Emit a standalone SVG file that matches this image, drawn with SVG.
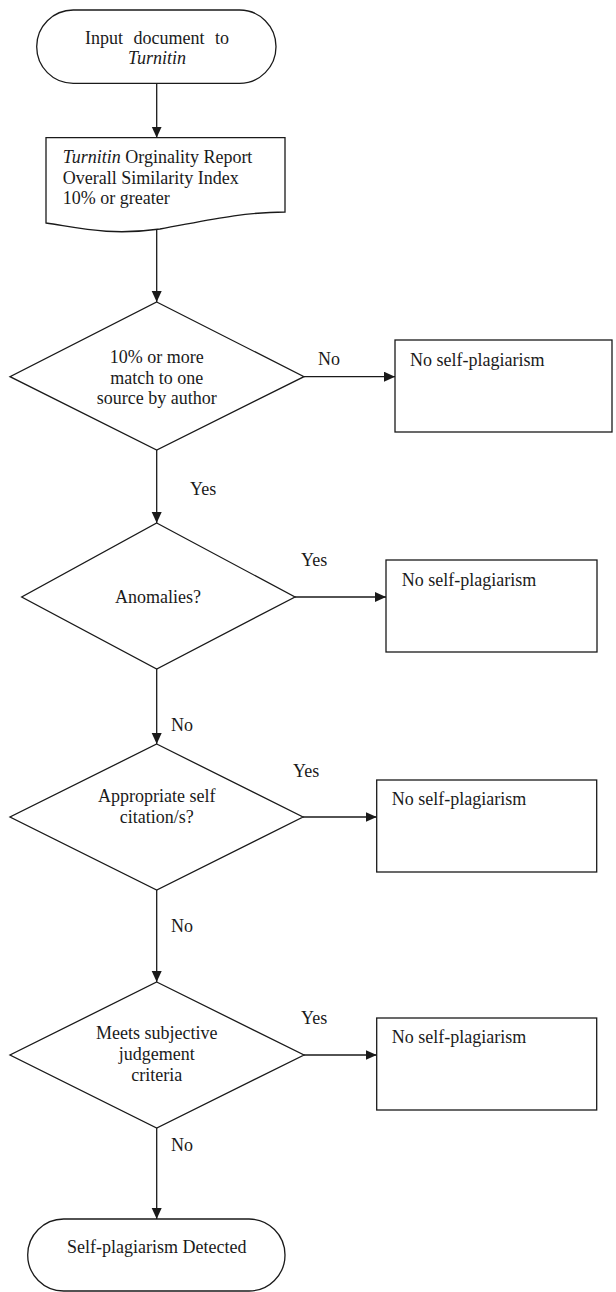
<svg xmlns="http://www.w3.org/2000/svg" width="616" height="1292" viewBox="0 0 616 1292">
<style>
  .shape { fill: #ffffff; stroke: #1a1a1a; stroke-width: 1.3; }
  .conn { stroke: #1a1a1a; stroke-width: 1.3; fill: none; marker-end: url(#arrow); }
  text { font-family: "Liberation Serif", "Times New Roman", serif; font-size: 18px; fill: #1a1a1a; }
  .c { text-anchor: middle; }
  .it { font-style: italic; }
</style>
<defs>
  <marker id="arrow" markerUnits="userSpaceOnUse" markerWidth="12" markerHeight="11" refX="11" refY="5" orient="auto">
    <path d="M0,0 L11,5 L0,10 Z" fill="#1a1a1a"/>
  </marker>
</defs>
<rect width="616" height="1292" fill="#ffffff"/>

<g id="connectors">
  <line class="conn" x1="156.7" y1="83.3" x2="156.7" y2="137.7"/>
  <line class="conn" x1="156.7" y1="229" x2="156.7" y2="302"/>
  <line class="conn" x1="304" y1="376.7" x2="395" y2="376.7"/>
  <text x="318" y="365">No</text>
  <line class="conn" x1="156.7" y1="450" x2="156.7" y2="523"/>
  <text x="190" y="495">Yes</text>
  <line class="conn" x1="295" y1="597" x2="386" y2="597"/>
  <text x="301" y="566">Yes</text>
  <line class="conn" x1="156.7" y1="669" x2="156.7" y2="744"/>
  <text x="171" y="731">No</text>
  <line class="conn" x1="303" y1="817" x2="376.7" y2="817"/>
  <text x="293" y="777">Yes</text>
  <line class="conn" x1="156.7" y1="890" x2="156.7" y2="982"/>
  <text x="171" y="932">No</text>
  <line class="conn" x1="304" y1="1055" x2="376.7" y2="1055"/>
  <text x="301" y="1024">Yes</text>
  <line class="conn" x1="156.7" y1="1128" x2="156.7" y2="1219"/>
  <text x="171" y="1151">No</text>
</g>

<g id="start">
  <rect class="shape" x="36.7" y="10" width="239.3" height="73.3" rx="36.5" ry="36.5"/>
  <text class="c" x="157" y="44" word-spacing="6">Input document to</text>
  <text class="c it" x="157" y="64">Turnitin</text>
</g>

<g id="report">
  <path class="shape" d="M46,137.7 H285 V212 C240,212 200,222 160,229 C110,236 80,228 46,223 Z"/>
  <text x="62.7" y="163.3"><tspan class="it">Turnitin</tspan> Orginality Report</text>
  <text x="62.7" y="184.3">Overall Similarity Index</text>
  <text x="62.7" y="204.3">10% or greater</text>
</g>

<g id="decision1">
  <polygon class="shape" points="156.7,302 304,376.7 156.7,450 10,376.7"/>
  <text class="c" x="156.7" y="363">10% or more</text>
  <text class="c" x="156.7" y="383.5">match to one</text>
  <text class="c" x="156.7" y="404">source by author</text>
</g>

<g id="result1">
  <rect class="shape" x="395" y="340" width="217" height="92"/>
  <text x="410" y="365.5">No self-plagiarism</text>
</g>

<g id="decision2">
  <polygon class="shape" points="156.7,523 295,597 156.7,669 21.7,597"/>
  <text class="c" x="158" y="603">Anomalies?</text>
</g>

<g id="result2">
  <rect class="shape" x="386" y="560" width="211" height="92"/>
  <text x="401.7" y="585.7">No self-plagiarism</text>
</g>

<g id="decision3">
  <polygon class="shape" points="156.7,744 303,817 156.7,890 10,817"/>
  <text class="c" x="156.7" y="801.7">Appropriate self</text>
  <text class="c" x="156.7" y="822.7">citation/s?</text>
</g>

<g id="result3">
  <rect class="shape" x="376.7" y="780" width="220" height="92"/>
  <text x="391.7" y="805">No self-plagiarism</text>
</g>

<g id="decision4">
  <polygon class="shape" points="156.7,982 304,1055 156.7,1128 10,1055"/>
  <text class="c" x="156.7" y="1039">Meets subjective</text>
  <text class="c" x="156.7" y="1060">judgement</text>
  <text class="c" x="156.7" y="1081">criteria</text>
</g>

<g id="result4">
  <rect class="shape" x="376.7" y="1018" width="220" height="92"/>
  <text x="391.7" y="1043">No self-plagiarism</text>
</g>

<g id="end">
  <rect class="shape" x="27.7" y="1219" width="257.3" height="72" rx="36" ry="36"/>
  <text class="c" x="156.7" y="1253">Self-plagiarism Detected</text>
</g>
</svg>
